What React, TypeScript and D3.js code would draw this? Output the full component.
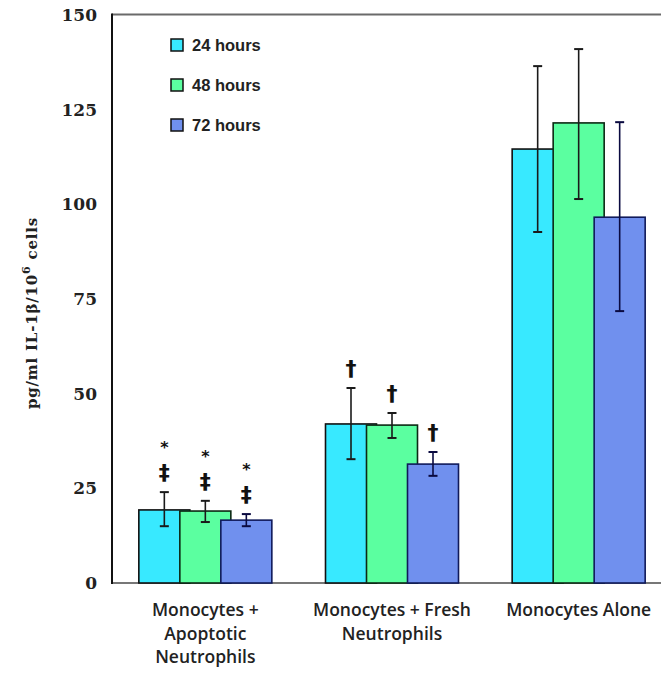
import React from "react";
import * as d3 from "d3";

const groups = [
  ["Monocytes +", "Apoptotic", "Neutrophils"],
  ["Monocytes + Fresh", "Neutrophils"],
  ["Monocytes Alone"],
];
const groupKeys = ["apoptotic", "fresh", "alone"];
const series = ["24 hours", "48 hours", "72 hours"];

// mean, lower and upper error per group, one array per series
const mean24 = [19.3, 42.0, 114.6];
const mean48 = [19.0, 41.7, 121.5];
const mean72 = [16.6, 31.4, 96.6];
const low24 = [15.0, 32.7, 92.7];
const low48 = [16.1, 38.3, 101.4];
const low72 = [15.0, 28.3, 71.8];
const high24 = [24.0, 51.5, 136.5];
const high48 = [21.7, 44.9, 141.0];
const high72 = [18.2, 34.6, 121.7];

// significance marks above each bar (top to bottom)
const marks24 = [["*", "‡"], ["†"], []];
const marks48 = [["*", "‡"], ["†"], []];
const marks72 = [["*", "‡"], ["†"], []];

const yTicks = [0, 25, 50, 75, 100, 125, 150];

const fills = ["#38e9ff", "#5bffa0", "#7090ee"];
const strokes = ["#111", "#0c2a14", "#101a5a"];

const W = 661;
const H = 673;

export default function App() {
  const y = d3.scaleLinear().domain([0, 150]).range([583, 15]);
  const x0 = d3.scaleBand().domain(groupKeys).range([112, 672]).padding(0);
  const x1 = d3.scalePoint().domain(series).range([-41, 41]);
  const barW = 51;

  const means = [mean24, mean48, mean72];
  const lows = [low24, low48, low72];
  const highs = [high24, high48, high72];
  const marks = [marks24, marks48, marks72];

  const bars = [];
  groupKeys.forEach((g, gi) => {
    series.forEach((s, si) => {
      bars.push({ g, gi, s, si });
    });
  });

  return (
    <svg
      width={W}
      height={H}
      style={{ position: "absolute", left: 0, top: 0, background: "#fff" }}
    >
      {/* frame */}
      <line x1={112} x2={W} y1={14.5} y2={14.5} stroke="#6a6a6a" strokeWidth={2} />
      <line x1={112} x2={W} y1={583} y2={583} stroke="#777" strokeWidth={2} />

      {bars.map((b) => {
        const cx = x0(b.g) + x0.bandwidth() / 2 + x1(b.s);
        const v = means[b.si][b.gi];
        return (
          <rect
            key={`${b.g}-${b.s}`}
            x={cx - barW / 2}
            y={y(v)}
            width={barW}
            height={y(0) - y(v)}
            fill={fills[b.si]}
            stroke={strokes[b.si]}
            strokeWidth={1.6}
          />
        );
      })}

      {bars.map((b) => {
        const cx = x0(b.g) + x0.bandwidth() / 2 + x1(b.s);
        const lo = y(lows[b.si][b.gi]);
        const hi = y(highs[b.si][b.gi]);
        const c = b.si === 2 ? "#0a0a40" : "#1a1a1a";
        return (
          <g key={`e-${b.g}-${b.s}`} stroke={c} strokeWidth={1.6}>
            <line x1={cx} x2={cx} y1={hi} y2={lo} />
            <line x1={cx - 4.5} x2={cx + 4.5} y1={hi} y2={hi} strokeWidth={2} />
            <line x1={cx - 4.5} x2={cx + 4.5} y1={lo} y2={lo} strokeWidth={2} />
          </g>
        );
      })}

      {bars.map((b) => {
        const cx = x0(b.g) + x0.bandwidth() / 2 + x1(b.s);
        const hi = y(highs[b.si][b.gi]);
        const m = marks[b.si][b.gi];
        return m.map((sym, k) => {
          const isStar = sym === "*";
          const cy = isStar ? hi - 48 : hi - 20;
          return (
            <text
              key={`m-${b.g}-${b.s}-${k}`}
              x={cx}
              y={isStar ? cy + 9 : cy + 8}
              textAnchor="middle"
              fontFamily="DejaVu Sans"
              fontWeight="bold"
              fontSize={isStar ? 16 : 22}
              fill="#111"
            >
              {sym}
            </text>
          );
        });
      })}

      {/* left axis */}
      <line x1={112} x2={112} y1={13.5} y2={584} stroke="#111" strokeWidth={2} />

      {yTicks.map((t) => (
        <text
          key={t}
          x={97}
          y={y(t)}
          dy="0.36em"
          textAnchor="end"
          fontFamily="DejaVu Serif"
          fontWeight="bold"
          fontSize={17}
          fill="#222"
        >
          {t}
        </text>
      ))}

      <text
        transform="translate(37,313) rotate(-90)"
        textAnchor="middle"
        fontFamily="DejaVu Serif"
        fontWeight="bold"
        fontSize={15}
        letterSpacing={0.8}
        fill="#222"
      >
        pg/ml IL-1β/10
        <tspan dy={-7} fontSize={11}>
          6
        </tspan>
        <tspan dy={7}> cells</tspan>
      </text>

      {groupKeys.map((g, gi) => (
        <text
          key={`lab-${g}`}
          textAnchor="middle"
          fontFamily="Open Sans"
          fontWeight={600}
          fontSize={17.5}
          fill="#222"
        >
          {groups[gi].map((line, li) => (
            <tspan key={li} x={x0(g) + x0.bandwidth() / 2} y={616 + li * 23.5}>
              {line}
            </tspan>
          ))}
        </text>
      ))}

      {series.map((s, si) => (
        <g key={`leg-${s}`} transform={`translate(171,${39 + si * 40})`}>
          <rect x={0} y={0} width={12} height={12} fill={fills[si]} stroke="#111" strokeWidth={1.5} />
          <text
            x={21}
            y={12}
            fontFamily="Liberation Sans"
            fontWeight="bold"
            fontSize={16.5}
            fill="#222"
          >
            {s}
          </text>
        </g>
      ))}
    </svg>
  );
}
